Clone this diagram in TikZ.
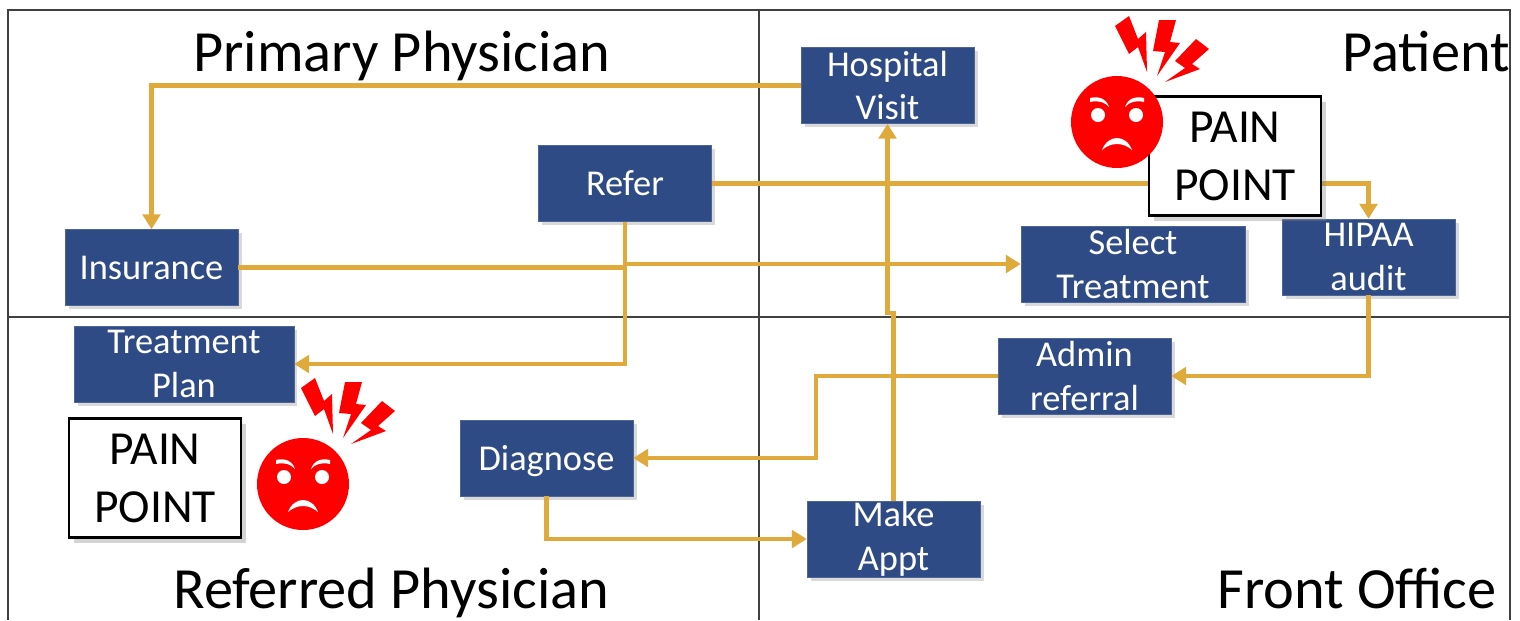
\documentclass[tikz,border=0pt]{standalone}
\usepackage{fontspec}
\setmainfont{Carlito}
\usetikzlibrary{arrows.meta,shadows}

\definecolor{boxblue}{HTML}{2F4B85}
\definecolor{flowgold}{HTML}{E0A93B}
\definecolor{painred}{HTML}{FF0000}
\definecolor{framegray}{HTML}{404040}

\tikzset{
  stepbox/.style={draw=boxblue!85!white,line width=0.3pt,fill=boxblue,text=white,align=center,inner sep=0pt,
    minimum width=3.46cm,minimum height=1.52cm,font=\fontsize{20.7}{25}\selectfont,
    drop shadow={opacity=0.3,shadow xshift=2pt,shadow yshift=-2pt}},
  painbox/.style={draw=black,line width=1.3pt,fill=white,align=center,inner sep=0pt,
    minimum width=3.44cm,minimum height=2.38cm,font=\fontsize{27}{33}\selectfont,
    drop shadow={opacity=0.35,shadow xshift=3pt,shadow yshift=-3pt}},
  quadtitle/.style={inner sep=0pt,anchor=base west,font=\fontsize{33.2}{40}\selectfont},
  flow/.style={draw=flowgold,line width=2.5pt,line join=miter},
  flowarrow/.style={flow,-{Triangle[width=10pt,length=8.5pt]}},
  pics/angryface/.style={code={
    \fill[painred] (0,0) circle (46);
    % the three bolts above the face
    \fill[painred] (-2,-96) -- (12,-106) -- (21,-83) -- (29,-90) -- (30,-50) -- (21,-75) -- (12,-68) -- cycle;
    \fill[painred] (42,-102) -- (59,-102) -- (53,-80) -- (63,-79) -- (40,-46) -- (48,-70) -- (36,-71) -- cycle;
    \fill[painred] (79,-83) -- (92,-73) -- (75,-58) -- (83,-53) -- (48,-40) -- (68,-54) -- (58,-61) -- cycle;
    % eyes, brows, mouth
    \fill[white] (-19,-7) circle (7) (19,-7) circle (7);
    \fill[white] (-27,-24) .. controls (-19,-26) and (-11,-24) .. (-8,-15) .. controls (-12,-20) and (-19,-22) .. (-27,-20) -- cycle;
    \fill[white] (27,-24) .. controls (19,-26) and (11,-24) .. (8,-15) .. controls (12,-20) and (19,-22) .. (27,-20) -- cycle;
    \fill[white] (-15,28) .. controls (-9,12) and (9,12) .. (15,28) .. controls (6,20) and (-6,20) .. (-15,28) -- cycle;
  }}
}

\begin{document}
\begin{tikzpicture}[x=0.02cm,y=-0.02cm]

\useasboundingbox (0,0) rectangle (1520,620);

% quadrant frame
\draw[framegray,line width=1.1pt] (8,620) -- (8,10) -- (1510,10) -- (1510,620);
\draw[framegray,line width=1.1pt] (759,10) -- (759,620);
\draw[framegray,line width=1.1pt] (8,317) -- (1510,317);

% quadrant titles
\node[quadtitle] (primary) at (193,71) {Primary Physician};
\node[quadtitle] (patient) at (1342,71) {Patient};
\node[quadtitle] (referred) at (173,608) {Referred Physician};
\node[quadtitle] (front) at (1217,608) {Front Office};

% process steps
\node[stepbox] (hospital) at (887.5,85.5) {Hospital\\Visit};
\node[stepbox] (refer) at (625,183.5) {Refer};
\node[stepbox] (insurance) at (151.5,267.5) {Insurance};
\node[stepbox,minimum width=4.48cm] (select) at (1133,264) {Select\\Treatment};
\node[stepbox] (hipaa) at (1368.5,257) {HIPAA\\audit};
\node[stepbox,minimum width=4.4cm] (treatment) at (184,364) {Treatment\\Plan};
\node[stepbox] (admin) at (1084.5,376) {Admin\\referral};
\node[stepbox,text depth=0pt] (diagnose) at (546.5,458) {Diagnose};
\node[stepbox] (makeappt) at (893.5,539) {Make\\Appt};

% bend points
\coordinate (jog) at (887.5,313);
\coordinate (adminbend) at (816,376);

% connectors
\draw[flowarrow] (hospital.west) -| (insurance.north);
\draw[flowarrow] (refer.east) -| (hipaa.north);
\draw[flowarrow] (insurance.east) -- (insurance.east -| refer.south) -- (select.west -| refer.south) -- (select.west);
\draw[flowarrow] (refer.south) |- (treatment.east);
\draw[flowarrow] (makeappt.north) |- (jog) -- (hospital.south);
\draw[flowarrow] (hipaa.south) |- (admin.east);
\draw[flowarrow] (admin.west) -- (adminbend) |- (diagnose.east);
\draw[flowarrow] (diagnose.south) |- (makeappt.west);

% pain points
\node[painbox] (painA) at (1235,156) {PAIN\\POINT};
\node[painbox] (painB) at (155,478) {PAIN\\POINT};
\pic (faceA) at (1117,122) {angryface};
\pic (faceB) at (303,484) {angryface};

\end{tikzpicture}
\end{document}
